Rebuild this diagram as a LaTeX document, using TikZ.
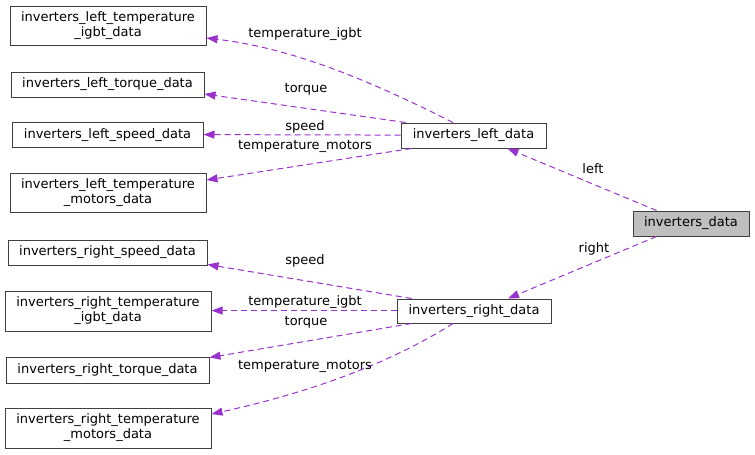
\documentclass[tikz,border=0pt]{standalone}
\usepackage{fontspec}
\setmainfont{DejaVu Sans}
\usetikzlibrary{arrows.meta}
\definecolor{edgecol}{HTML}{9A32CD}
\definecolor{bordercol}{HTML}{404040}
\definecolor{rootfill}{HTML}{BFBFBF}
\tikzset{
  box/.style={draw=bordercol, line width=1pt, fill=white, inner sep=0pt, align=center, font=\fontsize{13}{15}\selectfont},
  rootbox/.style={box, fill=rootfill},
  rel/.style={color=edgecol, line width=1pt, dash pattern=on 6pt off 4pt, -{Triangle[length=11pt,width=8pt]}},
  lbl/.style={font=\fontsize{13}{15}\selectfont, inner sep=0pt}
}
\begin{document}
\begin{tikzpicture}[x=1pt,y=-1pt]
\useasboundingbox (0,0) rectangle (755,455);
% left members
\node[box, minimum width=196, minimum height=39] (ligbt) at (108,25.5) {inverters\_left\_temperature\\\_igbt\_data};
\node[box, minimum width=193, minimum height=25] (lto) at (107.5,84.5) {inverters\_left\_torque\_data};
\node[box, minimum width=191, minimum height=25] (lsp) at (107.5,135) {inverters\_left\_speed\_data};
\node[box, minimum width=196, minimum height=39] (lmo) at (108,193) {inverters\_left\_temperature\\\_motors\_data};
% right members
\node[box, minimum width=199, minimum height=25] (rsp) at (107.5,252.5) {inverters\_right\_speed\_data};
\node[box, minimum width=206, minimum height=40] (rigbt) at (108,311) {inverters\_right\_temperature\\\_igbt\_data};
\node[box, minimum width=203, minimum height=26] (rto) at (107.5,370) {inverters\_right\_torque\_data};
\node[box, minimum width=206, minimum height=40] (rmo) at (108,428) {inverters\_right\_temperature\\\_motors\_data};
% middle
\node[box, minimum width=145, minimum height=25] (ld) at (473.5,135.5) {inverters\_left\_data};
\node[box, minimum width=154, minimum height=24] (rd) at (474,311) {inverters\_right\_data};
% root
\node[rootbox, minimum width=116, minimum height=25] (id) at (691,223.5) {inverters\_data};

% root edges
\draw[rel] ([xshift=24]id.north west) -- ([xshift=34]ld.south);
\draw[rel] ([xshift=24]id.south west) -- ([xshift=34]rd.north);
\node[lbl] (tleft) at (593,169) {left};
\node[lbl] (tright) at (594,249) {right};

% left_data edges
\draw[rel] ([xshift=-20.5]ld.north) .. controls (365,78) and (290,48) .. ([yshift=-12.5]ligbt.east);
\draw[rel] ([xshift=5]ld.north west) -- ([yshift=-9.5]lto.east);
\draw[rel] ([yshift=0.4]ld.west) -- ([yshift=0.4]lsp.east);
\draw[rel] ([xshift=11]ld.south west) -- ([yshift=13]lmo.east);
\node[lbl] (t1) at (305,34) {temperature\_igbt};
\node[lbl] (t2) at (306,89) {torque};
\node[lbl] (t3) at (305,127) {speed};
\node[lbl] (t4) at (305,146) {temperature\_motors};

% right_data edges
\draw[rel] ([xshift=15]rd.north west) -- ([yshift=1]rsp.south east);
\draw[rel] ([yshift=0.4]rd.west) -- ([yshift=0.4]rigbt.east);
\draw[rel] ([xshift=15]rd.south west) -- ([yshift=-1]rto.north east);
\draw[rel] ([xshift=-21]rd.south) .. controls (381,369) and (294,396) .. ([yshift=14]rmo.east);
\node[lbl] (t5) at (305,261) {speed};
\node[lbl] (t6) at (305,302) {temperature\_igbt};
\node[lbl] (t7) at (306,322) {torque};
\node[lbl] (t8) at (305,366) {temperature\_motors};
\end{tikzpicture}
\end{document}
